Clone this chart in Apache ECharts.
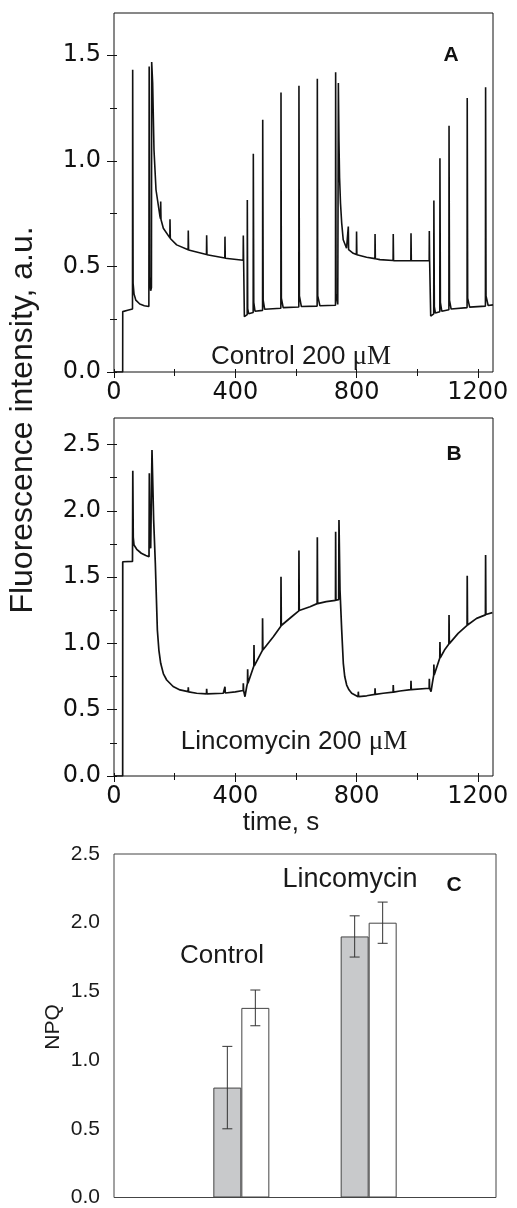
<!DOCTYPE html>
<html>
<head>
<meta charset="utf-8">
<script src="https://cdn.jsdelivr.net/npm/echarts@6/dist/echarts.min.js"></script>
<style>
html, body { margin: 0; padding: 0; background: #fff; }
#chart { width: 517px; height: 1208px; }
</style>
</head>
<body>
<div id="chart"></div>
<script>
// tick positions
const timeTicks = [0, 400, 800, 1200]
const timeMinor = [200, 600, 1000]
const ticksA = [0, 0.5, 1.0, 1.5]
const minorA = [0.25, 0.75, 1.25]
const ticksB = [0, 0.5, 1.0, 1.5, 2.0, 2.5]
const minorB = [0.25, 0.75, 1.25, 1.75, 2.25]

// panel A: control trace [time s, fluorescence]
const traceControl = [
  [0, 0], [28.6, 0], [28.8, 0.286], [45, 0.292], [61, 0.298],
  [61.6, 1.431], [63, 0.42], [66, 0.37], [72, 0.34], [85, 0.322], [100, 0.314], [115, 0.31],
  [116, 1.447], [118, 0.45], [121, 0.385], [123.5, 0.40],
  [124.3, 1.468], [127.5, 1.368], [131.9, 1.052], [138.5, 0.863], [151.7, 0.736],
  [153.5, 0.725], [154, 0.807], [155, 0.722], [162.7, 0.681],
  [184.2, 0.635], [184.7, 0.723], [185.7, 0.632], [206.7, 0.602],
  [244.5, 0.579], [245, 0.67], [246, 0.578], [305, 0.556], [305.6, 0.648], [306.6, 0.555],
  [365.5, 0.54], [366, 0.641], [367, 0.539], [426, 0.529], [426.5, 0.646], [427.5, 0.528],
  [429.5, 0.528], [430, 0.262],
  [436, 0.268], [439.3, 0.272], [439.7, 0.815], [441, 0.30], [444, 0.276],
  [459, 0.282], [459.5, 1.033], [461, 0.33], [465, 0.288],
  [490, 0.292], [490.5, 1.195], [492, 0.34], [497, 0.297],
  [550.3, 0.302], [550.8, 1.324], [552, 0.35], [558, 0.305],
  [609.5, 0.308], [610, 1.356], [611.5, 0.36], [618, 0.31],
  [670, 0.312], [670.6, 1.389], [672, 0.36], [679, 0.314],
  [730.5, 0.316], [731, 1.419], [732.5, 0.37], [738, 0.32],
  [739.5, 0.322], [740, 1.368], [742, 1.09], [744, 0.92], [747, 0.80], [751, 0.705],
  [756, 0.626], [767, 0.586], [772.3, 0.58], [772.8, 0.689], [773.8, 0.579],
  [789, 0.562], [799.5, 0.556], [800, 0.665], [801, 0.555], [833, 0.543],
  [860.5, 0.537], [861, 0.654], [862, 0.536], [877, 0.532],
  [920.5, 0.528], [921, 0.654], [922, 0.527], [979, 0.527], [979.6, 0.657], [980.6, 0.527],
  [1039.5, 0.527], [1040, 0.668], [1041, 0.527], [1044, 0.527], [1044.5, 0.265],
  [1054.5, 0.275], [1055, 0.812], [1056.5, 0.31], [1060, 0.279],
  [1074.5, 0.285], [1075, 1.012], [1076.5, 0.33], [1081, 0.288],
  [1104.5, 0.295], [1105, 1.166], [1106.5, 0.34], [1112, 0.298],
  [1164.5, 0.305], [1165, 1.297], [1166.5, 0.35], [1173, 0.307],
  [1225, 0.312], [1225.6, 1.348], [1227, 0.36], [1234, 0.315], [1250, 0.318]
]

// panel B: lincomycin trace
const traceLincomycin = [
  [0, 0], [28.6, 0], [28.8, 1.616], [61, 1.618],
  [62, 2.303], [63.5, 1.80], [66, 1.742], [75, 1.71], [90, 1.68], [105, 1.663], [115.5, 1.654],
  [116.5, 2.283], [118, 1.80], [121, 1.717], [122.5, 1.72],
  [125.3, 2.459], [130.8, 1.93], [136.3, 1.604], [143, 1.101], [148, 0.95], [154, 0.85],
  [163, 0.77], [173.8, 0.724], [195, 0.675], [217.7, 0.649],
  [244.5, 0.636], [245, 0.669], [246, 0.635], [272.7, 0.624],
  [305, 0.62], [305.6, 0.658], [306.6, 0.62], [360.5, 0.624],
  [365.5, 0.626], [366, 0.673], [367, 0.626], [400, 0.635],
  [426, 0.645], [426.5, 0.699], [427.5, 0.645], [432, 0.598],
  [437.6, 0.673], [440.3, 0.70], [440.8, 0.805], [441.8, 0.70],
  [461.2, 0.83], [461.7, 0.988], [462.7, 0.83],
  [489.5, 0.948], [490, 1.189], [491, 0.95], [525.5, 1.05],
  [550.3, 1.13], [550.8, 1.503], [551.8, 1.135], [586, 1.201],
  [609.5, 1.245], [610, 1.70], [611, 1.248], [646.4, 1.277],
  [670, 1.30], [670.6, 1.80], [671.6, 1.30], [700, 1.315],
  [730.5, 1.325], [731, 1.843], [732, 1.326], [741, 1.33],
  [742, 1.93], [745.4, 1.403], [751, 1.10], [756.3, 0.85], [761, 0.75], [767.4, 0.686],
  [775, 0.65], [784, 0.624], [805.3, 0.598], [805.8, 0.636], [806.8, 0.598],
  [833.4, 0.605], [860.5, 0.615], [861, 0.661], [862, 0.615], [888, 0.624],
  [920.5, 0.632], [921, 0.686], [922, 0.632], [943, 0.641],
  [979, 0.652], [979.5, 0.719], [980.5, 0.652],
  [1039.5, 0.662], [1040, 0.733], [1041, 0.662], [1045.6, 0.636],
  [1050, 0.70], [1054.5, 0.76], [1055, 0.84], [1056, 0.762],
  [1074.5, 0.89], [1075, 1.01], [1076, 0.892], [1090, 0.95],
  [1104.5, 0.995], [1105, 1.214], [1106, 0.998], [1135, 1.076],
  [1164.5, 1.136], [1165, 1.511], [1166, 1.139], [1196, 1.189],
  [1225, 1.215], [1225.6, 1.667], [1226.6, 1.218], [1248, 1.232], [1250, 1.233]
]

// panel C: NPQ
const groups = ['', 'Control', 'Lincomycin', '']
const npqGray = [null, 0.80, 1.90, null]
const npqWhite = [null, 1.38, 2.00, null]
const errGray = [[1, 0.50, 1.10], [2, 1.75, 2.05]]
const errWhite = [[1, 1.25, 1.51], [2, 1.85, 2.15]]

const tickFont = 'DejaVu Sans'
const sans = 'Liberation Sans'
const black = '#111'
const barW = 28

function timeAxis(grid, ticks, labels, position, len) {
  return {
    type: 'value', gridIndex: grid, min: 0, max: 1250, position: position,
    axisLine: { show: false },
    splitLine: { show: false },
    axisTick: { show: true, customValues: ticks, length: len, lineStyle: { color: black, width: 1 } },
    axisLabel: {
      show: labels, customValues: timeTicks, fontFamily: tickFont, fontSize: 24,
      color: black, margin: 9, formatter: v => String(v)
    }
  }
}

function fluoAxis(grid, max, ticks, labels, position, len) {
  return {
    type: 'value', gridIndex: grid, min: 0, max: max, position: position,
    axisLine: { show: false },
    splitLine: { show: false },
    axisTick: { show: true, customValues: ticks, length: len, lineStyle: { color: black, width: 1 } },
    axisLabel: {
      show: labels, customValues: labels ? ticks : [], fontFamily: tickFont, fontSize: 24,
      color: black, margin: 13, formatter: v => v.toFixed(1)
    }
  }
}

function errorSeries(data, offset) {
  return {
    type: 'custom', xAxisIndex: 4, yAxisIndex: 4, z: 5,
    encode: { x: 0, y: [1, 2] },
    data: data,
    renderItem: function (params, api) {
      const lo = api.coord([api.value(0), api.value(1)])
      const hi = api.coord([api.value(0), api.value(2)])
      const x = lo[0] + offset
      const st = { stroke: '#333', lineWidth: 1 }
      return {
        type: 'group',
        children: [
          { type: 'line', shape: { x1: x, y1: lo[1], x2: x, y2: hi[1] }, style: st },
          { type: 'line', shape: { x1: x - 5, y1: hi[1], x2: x + 5, y2: hi[1] }, style: st },
          { type: 'line', shape: { x1: x - 5, y1: lo[1], x2: x + 5, y2: lo[1] }, style: st }
        ]
      }
    }
  }
}

const myChart = echarts.init(document.getElementById('chart'), null, { renderer: 'canvas' })

const option = {
  animation: false,
  backgroundColor: '#fff',
  grid: [
    { left: 114, top: 13, width: 379, height: 359, show: true, borderColor: black, borderWidth: 1, backgroundColor: 'transparent' },
    { left: 114, top: 418, width: 379, height: 358, show: true, borderColor: black, borderWidth: 1, backgroundColor: 'transparent' },
    { left: 114, top: 854, width: 382, height: 347, show: true, borderColor: '#444', borderWidth: 1, backgroundColor: 'transparent' },
    { left: 114, top: 13, width: 379, height: 359 },
    { left: 114, top: 418, width: 379, height: 358 }
  ],
  xAxis: [
    timeAxis(0, timeTicks, true, 'bottom', 6),
    timeAxis(0, timeTicks.concat(timeMinor), false, 'top', 3),
    timeAxis(1, timeTicks, true, 'bottom', 6),
    timeAxis(1, timeTicks.concat(timeMinor), false, 'top', 3),
    {
      type: 'category', gridIndex: 2, data: groups, boundaryGap: false,
      axisLine: { show: false }, axisTick: { show: false }, axisLabel: { show: false }
    },
    timeAxis(3, timeMinor, false, 'bottom', 4),
    timeAxis(4, timeMinor, false, 'bottom', 4)
  ],
  yAxis: [
    fluoAxis(0, 1.7, ticksA, true, 'left', 7),
    fluoAxis(0, 1.7, ticksA.concat(minorA), false, 'right', 3),
    fluoAxis(1, 2.7, ticksB, true, 'left', 7),
    fluoAxis(1, 2.7, ticksB.concat(minorB), false, 'right', 3),
    {
      type: 'value', gridIndex: 2, min: 0, max: 2.5, interval: 0.5,
      axisLine: { show: false }, axisTick: { show: false }, splitLine: { show: false },
      axisLabel: { fontFamily: sans, fontSize: 21, color: '#1a1a1a', margin: 14, formatter: v => v.toFixed(1) }
    },
    fluoAxis(3, 1.7, minorA, false, 'left', 4),
    fluoAxis(4, 2.7, minorB, false, 'left', 4)
  ],
  series: [
    {
      name: 'Control', type: 'line', xAxisIndex: 0, yAxisIndex: 0,
      data: traceControl, showSymbol: false, symbol: 'none',
      lineStyle: { color: black, width: 1.6 }
    },
    {
      name: 'Lincomycin', type: 'line', xAxisIndex: 2, yAxisIndex: 2,
      data: traceLincomycin, showSymbol: false, symbol: 'none',
      lineStyle: { color: black, width: 1.7 }
    },
    {
      type: 'bar', xAxisIndex: 4, yAxisIndex: 4, data: npqGray, barWidth: barW, barGap: '0%',
      itemStyle: { color: '#c8c9cb', borderColor: '#444', borderWidth: 1 }
    },
    {
      type: 'bar', xAxisIndex: 4, yAxisIndex: 4, data: npqWhite, barWidth: barW, barGap: '0%',
      itemStyle: { color: '#fff', borderColor: '#444', borderWidth: 1 }
    },
    errorSeries(errGray, -barW / 2),
    errorSeries(errWhite, barW / 2)
  ],
  graphic: [
    { type: 'text', x: 451, y: 55, style: { text: 'A', font: 'bold 21px "Liberation Sans"', fill: black, textAlign: 'center', textVerticalAlign: 'middle' } },
    { type: 'text', x: 454, y: 454, style: { text: 'B', font: 'bold 21px "Liberation Sans"', fill: black, textAlign: 'center', textVerticalAlign: 'middle' } },
    { type: 'text', x: 454, y: 885, style: { text: 'C', font: 'bold 21px "Liberation Sans"', fill: black, textAlign: 'center', textVerticalAlign: 'middle' } },
    {
      type: 'text', x: 301, y: 357,
      style: {
        text: 'Control 200 {s|μM}', font: '26px "Liberation Sans"', fill: '#1a1a1a',
        textAlign: 'center', textVerticalAlign: 'middle',
        rich: { s: { fontFamily: 'Liberation Serif', fontSize: 27, fill: '#1a1a1a' } }
      }
    },
    {
      type: 'text', x: 294, y: 742,
      style: {
        text: 'Lincomycin 200 {s|μM}', font: '26px "Liberation Sans"', fill: '#1a1a1a',
        textAlign: 'center', textVerticalAlign: 'middle',
        rich: { s: { fontFamily: 'Liberation Serif', fontSize: 27, fill: '#1a1a1a' } }
      }
    },
    { type: 'text', x: 281, y: 823, style: { text: 'time, s', font: '26px "Liberation Sans"', fill: '#1a1a1a', textAlign: 'center', textVerticalAlign: 'middle' } },
    { type: 'text', x: 23, y: 420, rotation: Math.PI / 2, style: { text: 'Fluorescence intensity, a.u.', font: '32px "Liberation Sans"', fill: '#1a1a1a', textAlign: 'center', textVerticalAlign: 'middle' } },
    { type: 'text', x: 222, y: 956, style: { text: 'Control', font: '26px "Liberation Sans"', fill: '#1a1a1a', textAlign: 'center', textVerticalAlign: 'middle' } },
    { type: 'text', x: 350, y: 880, style: { text: 'Lincomycin', font: '27px "Liberation Sans"', fill: '#1a1a1a', textAlign: 'center', textVerticalAlign: 'middle' } },
    { type: 'text', x: 53, y: 1027, rotation: Math.PI / 2, style: { text: 'NPQ', font: '21px "Liberation Sans"', fill: '#1a1a1a', textAlign: 'center', textVerticalAlign: 'middle' } }
  ]
}

myChart.setOption(option)
window.addEventListener('resize', function () {
  myChart.resize()
})
</script>
</body>
</html>
